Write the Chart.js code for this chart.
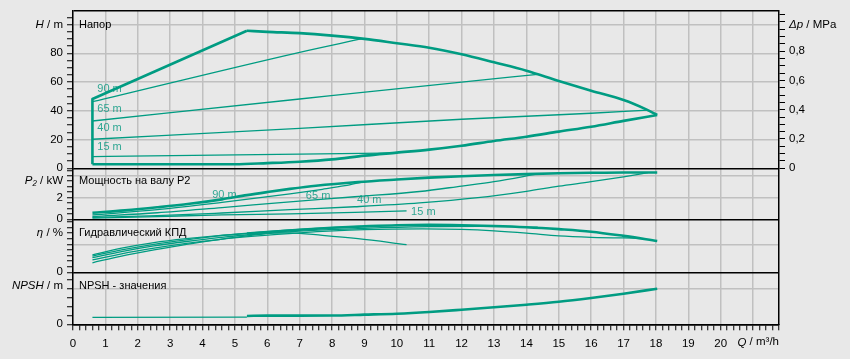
<!DOCTYPE html>
<html lang="ru">
<head>
<meta charset="utf-8">
<title>Pump curve</title>
<script src="https://cdn.jsdelivr.net/npm/chart.js@4.4.1/dist/chart.umd.min.js"></script>
<style>
  html, body { margin:0; padding:0; background:#e8e8e8; }
  canvas { display:block; }
</style>
</head>
<body>
<canvas id="chart" width="850" height="359"></canvas>
<script>
// ================= DATA =================
const X_TICK_LABELS = [0,1,2,3,4,5,6,7,8,9,10,11,12,13,14,15,16,17,18,19,20];

const H_TICK_LABELS   = [0,20,40,60,80];
const H_GRID_VALUES   = [20,40,60,80,100];
const DP_TICK_LABELS  = [0,0.2,0.4,0.6,0.8];
const P_TICK_LABELS   = [0,2];
const P_GRID_VALUES   = [2,4];
const ETA_TICK_LABELS = [0];
const ETA_GRID_VALUES = [50];
const NPSH_TICK_LABELS = [0];
const NPSH_GRID_VALUES = [4];

// Head H / m
const Q_H_EDGE = [0.6, 0.6, 5.37];
const H_EDGE   = [2.8, 48.2, 95.7];
const Q_H_MAX  = [5.37, 6, 7, 8, 9, 10, 11, 12, 13, 14, 15, 16, 17, 17.7, 18.04];
const H_MAX_C  = [95.7, 94.9, 94.0, 92.3, 90.0, 87.0, 83.9, 79.3, 73.7, 67.9, 60.7, 53.9, 47.5, 41.0, 37.1];
const Q_H_MIN  = [0.6, 5.0, 6, 7, 8, 9, 10, 11, 12, 13, 14, 15, 16, 17, 18.04];
const H_MIN_C  = [2.8, 2.8, 3.6, 4.6, 6.2, 8.8, 10.9, 13.0, 15.7, 19.0, 22.0, 25.5, 28.9, 33.0, 37.1];
const Q_H90 = [0.6, 7.0, 8.9];           const H_90 = [46.3, 80.7, 90.0];
const Q_H65 = [0.6, 7.0, 12, 14.35];     const H_65 = [32.9, 48.2, 60.0, 65.3];
const Q_H40 = [0.6, 7.0, 12, 16, 17.75]; const H_40 = [20.2, 27.8, 34.1, 38.3, 40.5];
const Q_H15 = [0.6, 7.0, 9.85];          const H_15 = [8.1, 9.9, 10.7];

// Shaft power P2 / kW
const Q_P_MAX = [0.6, 1.6, 2.6, 3.6, 4.6, 5.37, 6, 6.7, 7.5, 8.8, 10, 11, 12, 13, 14, 15, 16, 17, 18.04];
const P_MAX_C = [0.6, 0.82, 1.1, 1.42, 1.83, 2.22, 2.5, 2.79, 3.08, 3.42, 3.65, 3.82, 3.95, 4.06, 4.15, 4.22, 4.27, 4.3, 4.3];
const Q_P90 = [0.6, 2.6, 4.6, 6.7, 7.7, 8.4, 8.9];
const P_90  = [0.4, 0.88, 1.55, 2.33, 2.75, 3.08, 3.4];
const Q_P65 = [0.6, 2.6, 4.6, 6.7, 8.7, 10.7, 12, 13, 14.35];
const P_65  = [0.26, 0.6, 1.08, 1.6, 2.07, 2.55, 3.05, 3.45, 4.17];
const Q_P40 = [0.6, 2.6, 4.6, 6.7, 8.7, 10.7, 12.5, 14, 15, 16, 17, 17.75];
const P_40  = [0.17, 0.33, 0.58, 0.88, 1.15, 1.5, 1.98, 2.57, 3.04, 3.45, 3.9, 4.28];
const Q_P15 = [0.6, 2.6, 4.6, 6.7, 8.7, 10.3];
const P_15  = [0.1, 0.25, 0.4, 0.5, 0.63, 0.78];

// Hydraulic efficiency eta / %
const Q_E_LEFT = [0.6, 1.5, 2.5, 3.5, 4.5, 5.37];
const E_LEFT   = [31, 43, 53, 60, 65.5, 69];
const Q_E_MAX  = [5.37, 6, 7, 8, 9, 10, 11, 12, 13, 14, 15, 16, 17, 18.04];
const E_MAX_C  = [69, 72, 76, 79.5, 82, 84, 84.6, 84, 82.7, 80.5, 77, 72.5, 65, 56];
const Q_E90 = [0.6, 1.5, 2.5, 3.5, 4.5, 5.5, 6.5, 7.5, 8.9];
const E_90  = [29, 40, 50, 58, 65, 70.5, 75, 78.5, 82];
const Q_E65 = [0.6, 1.5, 2.5, 3.5, 4.5, 5.5, 7, 9, 11, 12.5, 14.35];
const E_65  = [26, 37, 47, 55, 62, 67.5, 73.5, 78.5, 81.5, 82, 80.5];
const Q_E40 = [0.6, 1.5, 2.5, 3.5, 4.5, 5.5, 7, 9, 10.8, 12, 13, 14, 15, 16, 17.5];
const E_40  = [22, 33, 43, 51.5, 58.5, 64, 70.5, 76, 77.5, 76.5, 74, 70, 65, 62.5, 60.8];
const Q_E15 = [0.6, 1.5, 2.5, 3.5, 4.5, 5.5, 6.2, 6.7, 7.7, 8.8, 10.3];
const E_15  = [17, 29, 40, 50, 58.5, 66, 70, 70.5, 66, 60, 49.5];

// NPSH / m
const Q_N_LEFT = [0.6, 5.37];
const N_LEFT   = [0.78, 0.8];
const Q_NPSH   = [5.37, 6, 7, 8, 9, 10, 11, 12, 13, 14, 15, 16, 17, 18.04];
const NPSH_C   = [0.93, 0.96, 0.96, 0.97, 1.07, 1.18, 1.37, 1.62, 1.89, 2.18, 2.51, 2.93, 3.4, 3.96];

// Curve labels (anchor in data units)
const H_CURVE_LABELS = [['90 m', 0.75, 55], ['65 m', 0.75, 41], ['40 m', 0.75, 27.8], ['15 m', 0.75, 15]];
const P_CURVE_LABELS = [['90 m', 4.3, 2.23], ['65 m', 7.19, 2.14], ['40 m', 8.77, 1.77], ['15 m', 10.44, 0.67]];

// ================= AXIS RANGES =================
const Q_AXIS_MAX = 21.8;
const H_AXIS_MAX = 109.4;
const P_AXIS_MAX = 4.68;
const E_AXIS_MAX = 94.6;
const N_AXIS_MAX = 5.78;
const MPA_PER_M = 0.00981;
const PANEL_WEIGHTS = [157.3, 51, 53, 52];
const DP_MAX = H_AXIS_MAX * MPA_PER_M;
const DP_MIN = -DP_MAX * (PANEL_WEIGHTS[1] + PANEL_WEIGHTS[2] + PANEL_WEIGHTS[3]) / PANEL_WEIGHTS[0];

// ================= STYLE =================
const TEAL = '#009c82';
const LABEL_TEAL = 'rgba(0,150,125,0.8)';
const GRID = '#c0c0c0';
const NONE = 'rgba(0,0,0,0)';
const FONT_FAMILY = '"Liberation Sans", Arial, Helvetica, sans-serif';
const TICK_FONT = { family: FONT_FAMILY, size: 11.5 };

function makeTicks(min, max, step) {
  const out = [];
  for (let i = 0; min + i * step <= max + 1e-9; i++) out.push(+(min + i * step).toFixed(4));
  return out;
}
const near = (a, b) => Math.abs(a - b) < 1e-6;
const inList = (v, list) => list.some(x => near(x, v));

function pts(qs, vs) { return qs.map((q, i) => ({ x: q, y: vs[i] })); }
function line(qs, vs, axis, thick, smooth = true) {
  return {
    data: pts(qs, vs), yAxisID: axis, xAxisID: 'x',
    borderColor: TEAL, backgroundColor: TEAL,
    borderWidth: thick ? 2.6 : 1.3,
    pointRadius: 0, pointHoverRadius: 0, fill: false,
    cubicInterpolationMode: smooth ? 'monotone' : 'default', tension: 0,
    borderJoinStyle: 'round'
  };
}

function yAxis(opts) {
  return {
    type: 'linear', position: 'left', stack: 'left',
    stackWeight: opts.weightPx, weight: opts.order,
    min: 0, max: opts.max,
    afterBuildTicks: s => { s.ticks = opts.ticks.map(v => ({ value: v })); },
    afterFit: s => { s.width = 73; },
    ticks: {
      autoSkip: false, padding: 4, color: '#000', font: TICK_FONT,
      callback: v => inList(v, opts.labels) ? String(v) : ''
    },
    grid: {
      color: ctx => {
        const v = ctx.tick.value;
        if (near(v, 0) || (opts.topBlack && near(v, opts.max))) return '#000';
        return inList(v, opts.grid) ? GRID : NONE;
      },
      lineWidth: 1.5,
      tickColor: ctx => near(ctx.tick.value, opts.max) ? NONE : '#000',
      tickLength: 6, tickWidth: 1
    },
    border: { display: true, color: '#000', width: 1.5 }
  };
}

const datasets = [
  // Head panel
  line(Q_H15, H_15, 'yH', false),
  line(Q_H40, H_40, 'yH', false),
  line(Q_H65, H_65, 'yH', false),
  line(Q_H90, H_90, 'yH', false),
  line(Q_H_EDGE, H_EDGE, 'yH', true, false),
  line(Q_H_MAX, H_MAX_C, 'yH', true),
  line(Q_H_MIN, H_MIN_C, 'yH', true),
  // Power panel
  line(Q_P15, P_15, 'yP', false),
  line(Q_P40, P_40, 'yP', false),
  line(Q_P65, P_65, 'yP', false),
  line(Q_P90, P_90, 'yP', false),
  line(Q_P_MAX, P_MAX_C, 'yP', true),
  // Efficiency panel
  line(Q_E15, E_15, 'yE', false),
  line(Q_E40, E_40, 'yE', false),
  line(Q_E65, E_65, 'yE', false),
  line(Q_E90, E_90, 'yE', false),
  line(Q_E_LEFT, E_LEFT, 'yE', false),
  line(Q_E_MAX, E_MAX_C, 'yE', true),
  // NPSH panel
  line(Q_N_LEFT, N_LEFT, 'yN', false),
  line(Q_NPSH, NPSH_C, 'yN', true)
];

function drawMixed(ctx, parts, x, y, align) {
  let total = 0;
  const widths = parts.map(([t, it]) => {
    ctx.font = (it ? 'italic ' : '') + '11.5px ' + FONT_FAMILY;
    const w = ctx.measureText(t).width; total += w; return w;
  });
  let cx = align === 'right' ? x - total : x;
  ctx.textAlign = 'left';
  parts.forEach(([t, it], i) => {
    ctx.font = (it ? 'italic ' : '') + '11.5px ' + FONT_FAMILY;
    ctx.fillText(t, cx, y);
    cx += widths[i];
  });
}

const textPlugin = {
  id: 'texts',
  beforeDatasetsDraw(chart) {
    const ctx = chart.ctx, a = chart.chartArea, s = chart.scales;
    ctx.save();
    ctx.textBaseline = 'middle';
    ctx.fillStyle = '#000';
    ctx.textAlign = 'left';
    ctx.font = '11px ' + FONT_FAMILY;
    const panelTitles = [['yH', 100, 'Напор'], ['yP', 3.5, 'Мощность на валу P2'],
                         ['yE', 70, 'Гидравлический КПД'], ['yN', 4.25, 'NPSH - значения']];
    panelTitles.forEach(([ax, at, t]) => ctx.fillText(t, a.left + 6, s[ax].getPixelForValue(at)));

    ctx.fillStyle = LABEL_TEAL;
    H_CURVE_LABELS.forEach(([t, q, v]) => ctx.fillText(t, s.x.getPixelForValue(q), s.yH.getPixelForValue(v)));
    P_CURVE_LABELS.forEach(([t, q, v]) => ctx.fillText(t, s.x.getPixelForValue(q), s.yP.getPixelForValue(v)));

    ctx.fillStyle = '#000';
    const leftTitles = [['yH', 100, [['H', 1], [' / m', 0]]], ['yP', 3.5, [['P₂', 1], [' / kW', 0]]],
                        ['yE', 70, [['η', 1], [' / %', 0]]], ['yN', 4.25, [['NPSH', 1], [' / m', 0]]]];
    leftTitles.forEach(([ax, at, parts]) => drawMixed(ctx, parts, a.left - 10, s[ax].getPixelForValue(at), 'right'));
    drawMixed(ctx, [['Δp', 1], [' / MPa', 0]], a.right + 10, s.yH.getPixelForValue(100), 'left');
    drawMixed(ctx, [['Q', 1], [' / m³/h', 0]], a.right, s.x.top + 18, 'right');
    ctx.restore();
  }
};

new Chart(document.getElementById('chart'), {
  type: 'line',
  data: { datasets },
  plugins: [textPlugin],
  options: {
    responsive: false, animation: false, devicePixelRatio: 1,
    parsing: true, normalized: true,
    layout: { padding: { top: 11, left: 0, right: 0, bottom: 0 } },
    plugins: { legend: { display: false }, tooltip: { enabled: false }, title: { display: false } },
    events: [],
    scales: {
      x: {
        type: 'linear', position: 'bottom', min: 0, max: Q_AXIS_MAX,
        afterBuildTicks: s => { s.ticks = makeTicks(0, Q_AXIS_MAX, 0.2).map(v => ({ value: v })); },
        afterFit: s => { s.height = 34.7; },
        ticks: {
          autoSkip: false, maxRotation: 0, minRotation: 0, padding: 6.5, color: '#000', font: TICK_FONT,
          callback: v => inList(v, X_TICK_LABELS) ? String(Math.round(v)) : ''
        },
        grid: {
          color: ctx => (near(ctx.tick.value, Math.round(ctx.tick.value)) ? GRID : NONE),
          lineWidth: 1.5, tickColor: '#000', tickLength: 6, tickWidth: 1
        },
        border: { display: true, color: '#000', width: 1.5 }
      },
      yH: yAxis({ weightPx: PANEL_WEIGHTS[0], order: 4, max: H_AXIS_MAX,
                  ticks: makeTicks(0, 105, 5).concat([H_AXIS_MAX]), labels: H_TICK_LABELS,
                  grid: H_GRID_VALUES, topBlack: true }),
      yP: yAxis({ weightPx: PANEL_WEIGHTS[1], order: 3, max: P_AXIS_MAX,
                  ticks: makeTicks(0, 4.5, 0.5), labels: P_TICK_LABELS, grid: P_GRID_VALUES }),
      yE: yAxis({ weightPx: PANEL_WEIGHTS[2], order: 2, max: E_AXIS_MAX,
                  ticks: makeTicks(0, 90, 10), labels: ETA_TICK_LABELS, grid: ETA_GRID_VALUES }),
      yN: yAxis({ weightPx: PANEL_WEIGHTS[3], order: 1, max: N_AXIS_MAX,
                  ticks: makeTicks(0, 5, 1), labels: NPSH_TICK_LABELS, grid: NPSH_GRID_VALUES }),
      yDP: {
        type: 'linear', position: 'right', min: DP_MIN, max: DP_MAX,
        afterBuildTicks: s => { s.ticks = makeTicks(0, 1.05, 0.05).map(v => ({ value: v })); },
        afterFit: s => { s.width = 71; },
        ticks: {
          autoSkip: false, padding: 4, color: '#000', font: TICK_FONT,
          callback: v => inList(v, DP_TICK_LABELS) ? String(v).replace('.', ',') : ''
        },
        grid: { drawOnChartArea: false, tickColor: '#000', tickLength: 6, tickWidth: 1 },
        border: { display: true, color: '#000', width: 1.5 }
      }
    }
  }
});
</script>
</body>
</html>
